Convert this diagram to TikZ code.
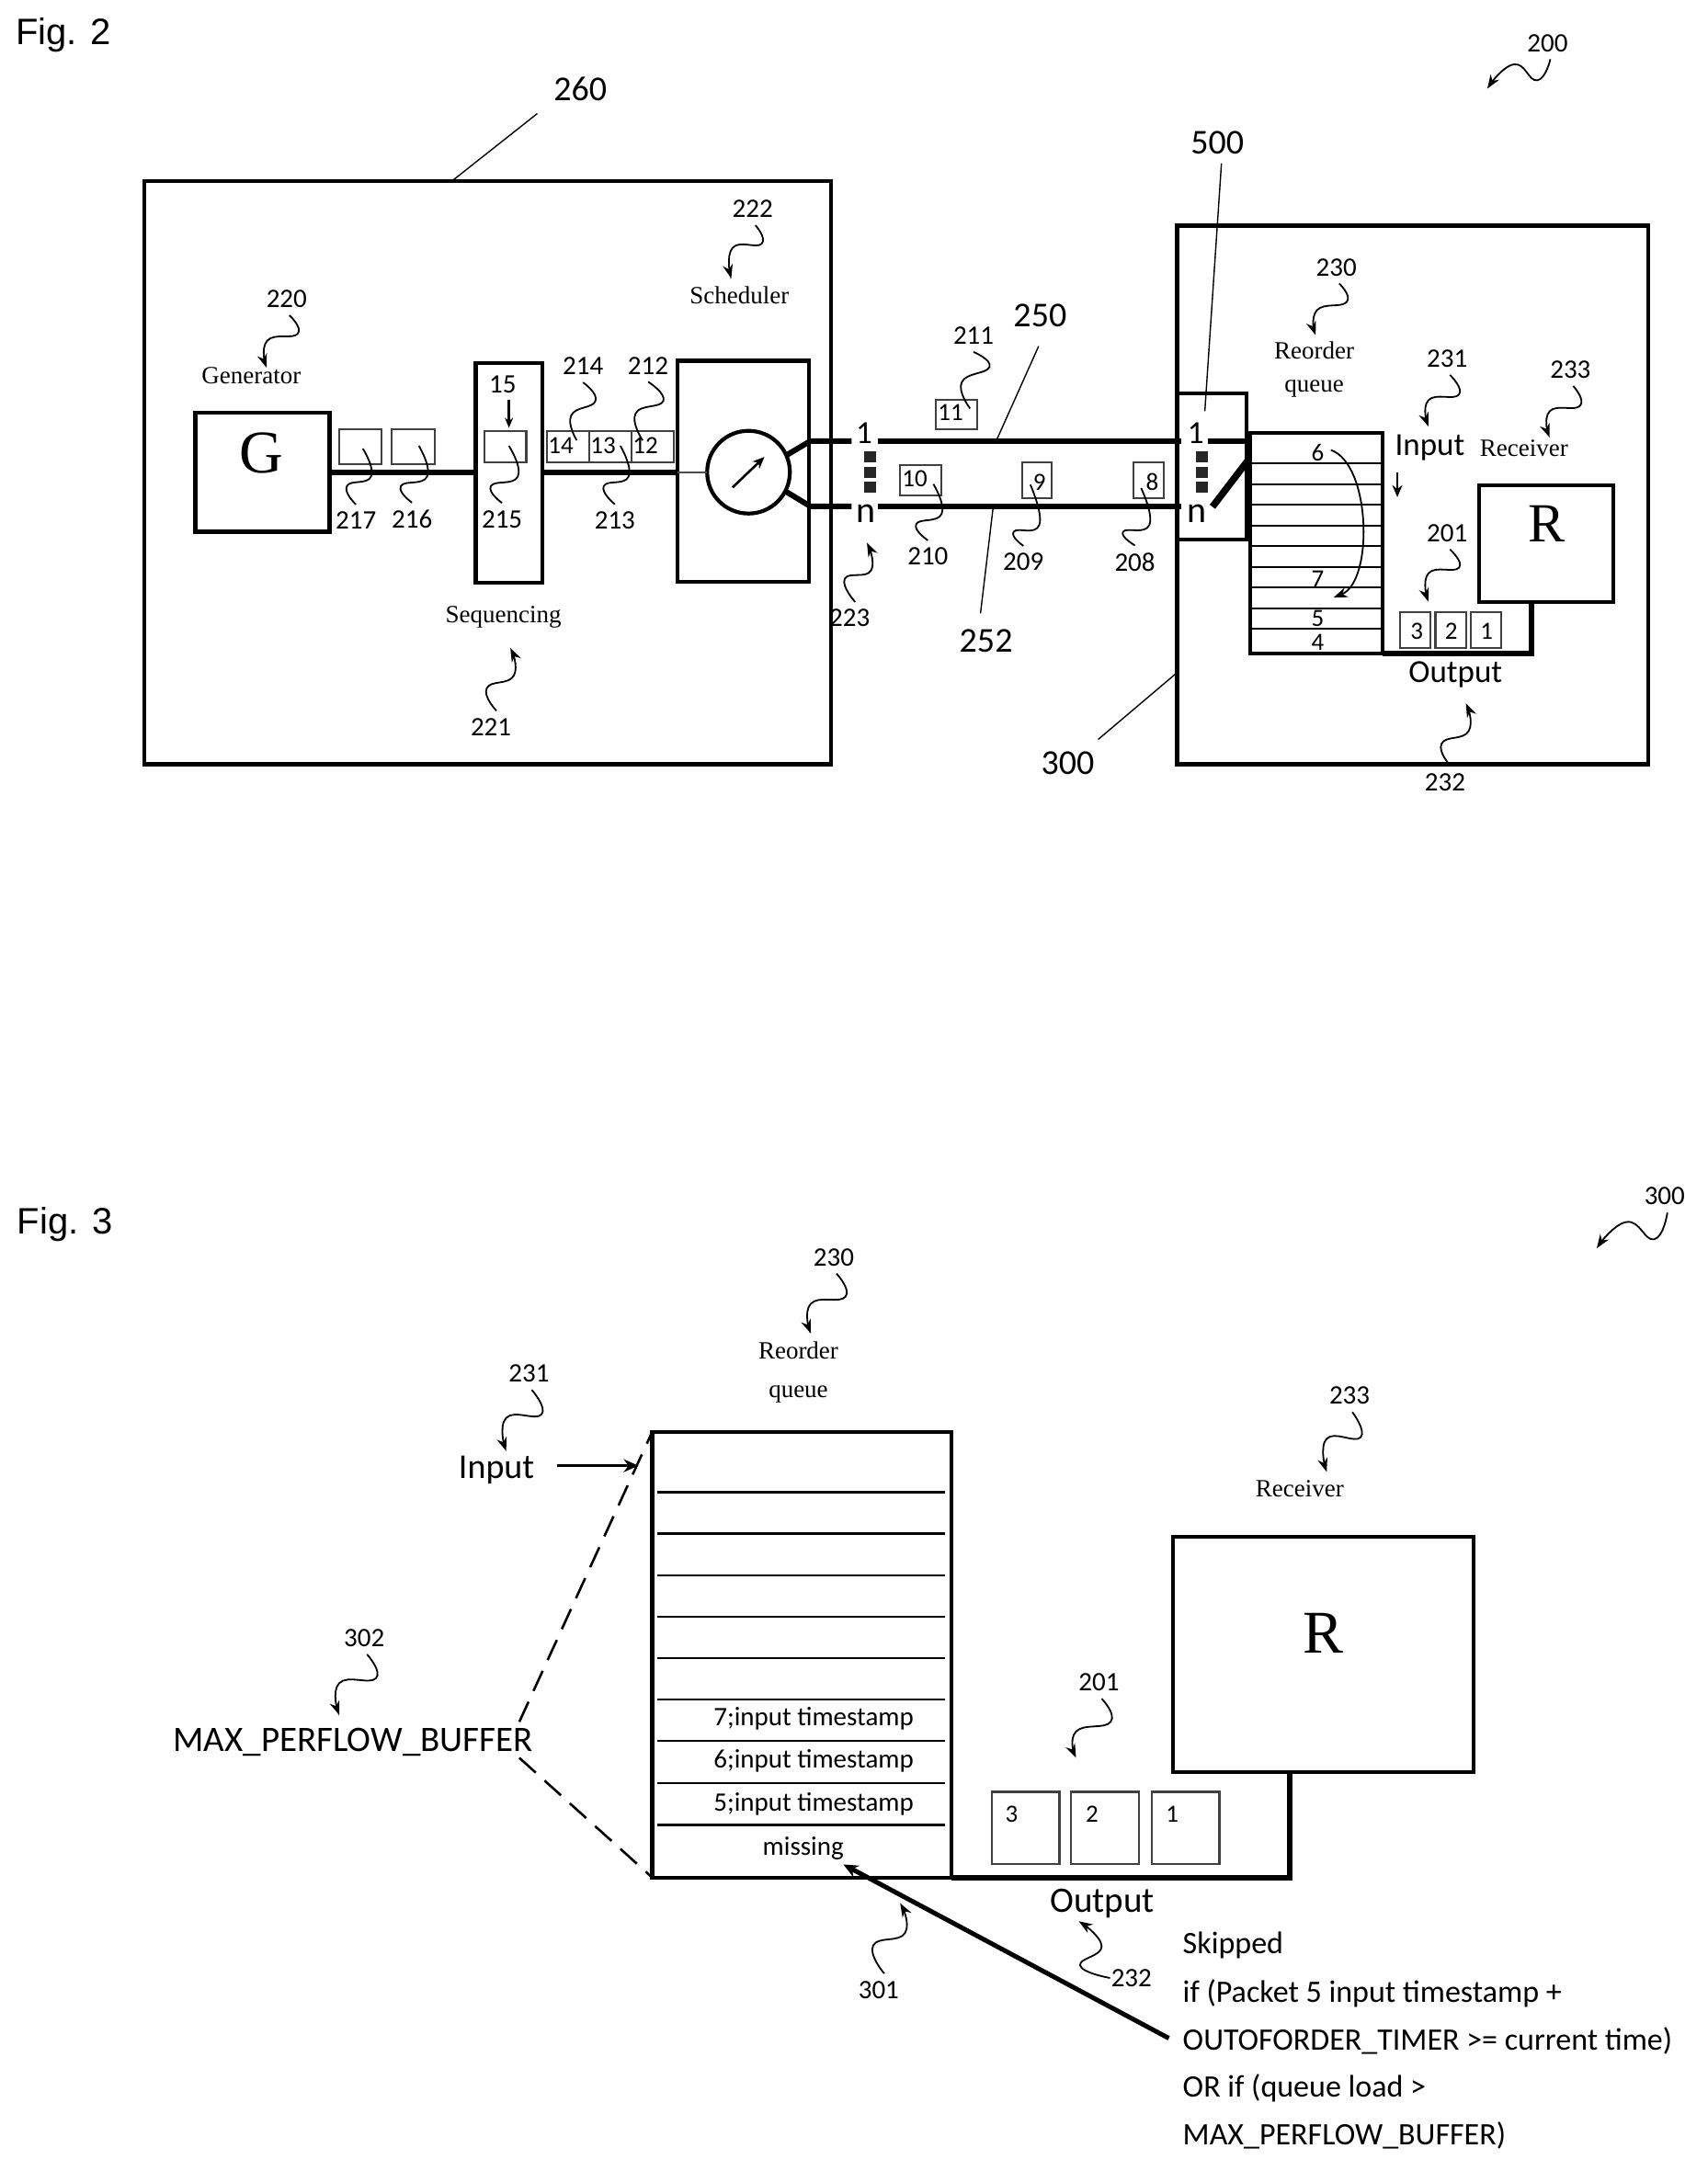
\documentclass[tikz,border=0pt]{standalone}
\usepackage{fontspec}
\usetikzlibrary{arrows.meta,fit,positioning}
\setmainfont{Liberation Sans}
\newfontfamily\carl{Carlito}
\newfontfamily\serf{Liberation Serif}
\tikzset{
  box/.style={draw,line width=4.2pt,inner sep=0pt,outer sep=0pt},
  pkt/.style={draw,line width=2.2pt,draw=black!75,inner sep=0pt,outer sep=0pt},
  wire/.style={line width=6pt},
  thinline/.style={line width=2.2pt},
  lead/.style={line width=1.4pt},
  num/.style={font=\carl\fontsize{29}{30}\selectfont,inner sep=1pt},
  big/.style={font=\carl\fontsize{38}{40}\selectfont,inner sep=1pt},
  lab/.style={font=\carl\fontsize{35}{40}\selectfont,inner sep=1pt},
  chn/.style={font=\carl\fontsize{40}{40}\selectfont,inner sep=1pt},
  pnum/.style={font=\carl\fontsize{27}{28}\selectfont,inner sep=0pt},
  ser/.style={font=\serf\fontsize{27}{30}\selectfont,inner sep=1pt},
  entry/.style={font=\carl\fontsize{29}{30}\selectfont,inner sep=1pt},
  letter/.style={font=\serf\fontsize{66}{70}\selectfont,inner sep=0pt},
  fig/.style={font=\fontsize{40}{42}\selectfont,inner sep=0pt},
  txt/.style={font=\carl\fontsize{34}{36}\selectfont,anchor=west,inner sep=0pt},
  squig/.style={line width=1.8pt,-{Stealth[length=15pt,width=11pt]}},
  squign/.style={line width=1.8pt},
  dotsq/.style={fill=black!85,minimum width=13pt,minimum height=12pt,inner sep=0pt,outer sep=0pt},
  arr/.style={line width=3.6pt,-{Stealth[length=16pt,width=14pt]}},
}
\newcommand{\bx}[6][box]{%
  \coordinate (#2-a) at (#3,#4);\coordinate (#2-b) at (#5,#6);
  \node[#1,fit=(#2-a)(#2-b)] (#2) {};}
% arrowed squiggles that leave a label downwards (\sqa) or upwards (\sqb)
\newcommand{\sqa}[4]{\draw[squig] plot[smooth,tension=.85] coordinates {([shift={(2,0)},yshift=-7pt]#1)(#2)(#3)(#4)};}
\newcommand{\sqb}[4]{\draw[squig] plot[smooth,tension=.85] coordinates {([shift={(4,0)},yshift=7pt]#1)(#2)(#3)(#4)};}
% plain squiggles: from a point to the top of a label (\sqn), from the foot of a label to a point (\sqm)
\newcommand{\sqn}[4]{\draw[squign] plot[smooth,tension=.85] coordinates {(#1)(#2)(#3)([yshift=7pt]#4)};}
\newcommand{\sqm}[4]{\draw[squign] plot[smooth,tension=.85] coordinates {([yshift=-7pt]#1)(#2)(#3)(#4)};}
\begin{document}
\begin{tikzpicture}[x=1.5065pt,y=-1.5065pt]
\path[use as bounding box,fill=white] (0,0) rectangle (1233.3,1567.9);
% ---------- Fig. 2 ----------
\node[fig] (fig2) at (46,25.5) {Fig. 2};
\bx{b260}{104}{131}{600}{552}
\bx{b300}{850}{163}{1190}{552}
\node[big] (l260) at (419,64) {260};
\coordinate (s260) at (388,82);\coordinate (t260) at (326,131);
\draw[lead] (s260) -- (t260);
\bx{gen}{141}{298}{238}{384}
\node[letter] (tG) at (189,327) {G};
\bx{seq}{343.5}{262}{391.5}{421}
\bx{sched}{489}{260.5}{584}{420}
\node[draw,circle,line width=4.2pt,minimum size=90pt,inner sep=0pt,outer sep=0pt] (circ) at (540.5,341) {};
\coordinate (ca) at (529,352);\coordinate (cb) at (552,330);
\draw[line width=2.6pt,-{Stealth[length=13pt,width=11pt]}] (ca) -- (cb);
\draw[wire] (gen.east) -- (gen.east -| seq.west);
\draw[wire] (seq.east |- gen.east) -- (sched.west |- gen.east);
\draw[line width=2.4pt,black!70] (sched.west |- gen.east) -- (circ.west);
% packets
\bx[pkt]{p217}{245}{310}{275.5}{335}
\bx[pkt]{p216}{283}{310}{314}{335}
\bx[pkt]{p215}{350}{311.5}{380}{334}
\bx[pkt]{p14}{395}{311.5}{425.5}{334}
\bx[pkt]{p13}{425.5}{311.5}{456}{334}
\bx[pkt]{p12}{456}{311.5}{486.5}{334}
\node[pnum] (t14) at (405,322) {14};
\node[pnum] (t13) at (435.5,322) {13};
\node[pnum] (t12) at (466,322) {12};
\node[num] (l15) at (363,277.5) {15};
\coordinate (a15) at (367.5,309);\coordinate (a15s) at (367.5,288.5);
\draw[line width=2.4pt,-{Stealth[length=11pt,width=9pt]}] (a15s) -- (a15);
% channels
\node[lab] (c1) at (624,312.5) {1};
\node[chn] (cn) at (625,371) {n};
\node[lab] (d1) at (863.5,312.5) {1};
\node[chn] (dn) at (864,371) {n};
\node[dotsq] (s1) at (628.4,329.7) {};
\node[dotsq] (s2) at (628.4,341) {};
\node[dotsq] (s3) at (628.4,352) {};
\node[dotsq] (s4) at (867.8,329.7) {};
\node[dotsq] (s5) at (867.8,341) {};
\node[dotsq] (s6) at (867.8,352) {};
\coordinate (u0) at (567.5,329);\coordinate (u1) at (585,318.6);\coordinate (u2) at (615,318.6);
\coordinate (v0) at (567.5,355);\coordinate (v1) at (585,365.6);\coordinate (v2) at (615,365.6);
\coordinate (u3) at (633.6,318.6);\coordinate (u4) at (853,318.6);\coordinate (u5) at (872.4,318.6);\coordinate (u6) at (901.5,318.6);
\coordinate (v3) at (633.6,365.6);\coordinate (v4) at (853,365.6);
\coordinate (w1) at (901.5,332);\coordinate (w2) at (875.5,366);
\draw[wire] (u0) -- (u1) -- (u2);
\draw[wire] (v0) -- (v1) -- (v2);
\draw[wire] (u3) -- (u4);
\draw[wire] (v3) -- (v4);
\draw[wire] (u5) -- (u6) -- (w1);
\draw[line width=7.5pt] (w1) -- (w2);
\bx{b500}{850}{284}{900}{389.5}
\bx[pkt]{p11}{676}{288.8}{705.7}{309.8}
\bx[pkt]{p10}{650}{336}{679.7}{357.6}
\bx[pkt]{p9}{738}{334}{759.4}{359.8}
\bx[pkt]{p8}{818.6}{334}{840.4}{359.8}
\node[pnum] (t11) at (686.4,298) {11};
\node[pnum] (t10) at (660.5,346) {10};
\node[pnum] (t9) at (750.5,348) {9};
\node[pnum] (t8) at (832,348) {8};
% queue
\bx{queue}{903}{312.5}{998.5}{472}
\foreach \yy in {334.7,349.6,364.6,379.5,394.4,409.3,424.2,439.2,454.1}
  \draw[thinline] (queue.west |- 0,\yy) -- (queue.east |- 0,\yy);
\node[pnum] (q6) at (951.5,327) {6};
\node[pnum] (q7) at (951.5,418) {7};
\node[pnum] (q5) at (951.5,446.5) {5};
\node[pnum] (q4) at (951.5,464) {4};
\coordinate (cv1) at (961,325);\coordinate (cv3) at (963,431.5);
\draw[line width=1.8pt,-{Stealth[length=15pt,width=11pt]}] (cv1) .. controls (990,335) and (992,420) .. (cv3);
\node[font=\serf\fontsize{60}{64}\selectfont,inner sep=0pt] (tR) at (1117,378) {R};
\bx{recv}{1068}{350.5}{1165}{435}
\coordinate (rj) at (1106,435);
\draw[wire] (queue.south east) -| (rj);
\bx[pkt]{o3}{1011}{442}{1033}{468}
\bx[pkt]{o2}{1036.5}{442}{1058.5}{468}
\bx[pkt]{o1}{1062}{442}{1084}{468}
\node[pnum] (to3) at (1023,456) {3};
\node[pnum] (to2) at (1048,456) {2};
\node[pnum] (to1) at (1073.5,456) {1};
\node[lab] (tinput) at (1032.5,323.5) {Input};
\node[lab] (toutput) at (1051,487) {Output};
\coordinate (ia) at (1009,341);\coordinate (ib) at (1009,359);
\draw[line width=2.6pt,-{Stealth[length=13pt,width=11pt]}] (ia) -- (ib);
\node[ser] (tgen) at (181.5,271.5) {Generator};
\node[ser] (tsched) at (534,213) {Scheduler};
\node[ser] (tseq) at (363.5,445.5) {Sequencing};
\node[ser] (treo) at (949,253) {Reorder};
\node[ser] (tq) at (949,281) {queue};
\node[ser] (trcv) at (1100.5,324) {Receiver};
% reference numerals
\node[num] (l200) at (1117.5,31) {200};
\sqa{l200.south}{1110,58}{1093,46.5}{1074,64}
\node[big] (l500) at (879,103) {500};
\coordinate (s500) at (882,118);\coordinate (e500) at (870,297);
\draw[lead] (s500) -- (e500);
\node[big] (l250) at (751,228) {250};
\coordinate (s250) at (750,250);\coordinate (e250) at (720,317);
\draw[lead] (s250) -- (e250);
\node[big] (l252) at (712,463) {252};
\coordinate (s252) at (708,443);\coordinate (e252) at (717,367.5);
\draw[lead] (s252) -- (e252);
\node[big] (l300) at (771,551) {300};
\coordinate (s300) at (793,534);\coordinate (e300) at (848.5,487);
\draw[lead] (s300) -- (e300);
\node[num] (l220) at (207,216) {220};
\sqa{l220.south}{215,241}{193,246}{192.5,265.5}
\node[num] (l222) at (543.5,151) {222};
\sqa{l222.south}{550,176}{529,179}{528,201}
\node[num] (l221) at (354.5,525) {221};
\sqb{l221.north}{351.5,497}{371,488}{368.5,468}
\node[num] (l217) at (257,376) {217};
\coordinate (x217) at (262,324);
\sqn{x217}{268,344}{250.5,351}{l217.north}
\node[num] (l216) at (297.5,375) {216};
\coordinate (x216) at (302.5,322);
\sqn{x216}{308.5,344}{289.5,351}{l216.north}
\node[num] (l215) at (362.5,375) {215};
\coordinate (x215) at (367.5,322);
\sqn{x215}{374,344}{354.5,351}{l215.north}
\node[num] (l214) at (421,264.5) {214};
\coordinate (x214) at (416.5,318);
\sqm{l214.south}{430,289.5}{412.5,300}{x214}
\node[num] (l212) at (468,264) {212};
\coordinate (x212) at (464,318);
\sqm{l212.south}{479,289.5}{459,298.5}{x212}
\node[num] (l213) at (444,376) {213};
\coordinate (x213) at (448,322);
\sqn{x213}{454,344}{436,351}{l213.north}
\node[num] (l211) at (703,242.5) {211};
\coordinate (x211) at (700.5,295);
\sqm{l211.south}{714.5,265}{694.5,276}{x211}
\node[num] (l210) at (670,402) {210};
\coordinate (x210) at (674,349.6);
\sqn{x210}{680,371}{661.6,378.5}{l210.north}
\node[num] (l209) at (739,406) {209};
\coordinate (x209) at (744,350);
\sqn{x209}{750.5,379}{732,384}{l209.north}
\node[num] (l208) at (819.5,406) {208};
\coordinate (x208) at (824,352.5);
\sqn{x208}{830,379}{811,384}{l208.north}
\node[num] (l223) at (613.5,446.5) {223};
\sqb{l223.north}{610,418}{629,412}{626,392}
\node[num] (l230a) at (965,193) {230};
\sqa{l230a.south}{972.5,218}{951,224}{950,242}
\node[num] (l231a) at (1045,259) {231};
\sqa{l231a.south}{1053.5,285}{1031.5,289}{1031.5,308}
\node[num] (l233a) at (1134,267) {233};
\sqa{l233a.south}{1141,293}{1119,297}{1119,316}
\node[num] (l201a) at (1045,385) {201};
\sqa{l201a.south}{1053.5,410}{1031.5,414}{1031.5,434.5}
\node[num] (l232a) at (1043.5,565) {232};
\sqb{l232a.north}{1041,537}{1060.5,528}{1058.5,508}
% ---------- Fig. 3 ----------
\node[fig] (fig3) at (47,884.5) {Fig. 3};
\node[num] (l300b) at (1202,864) {300};
\sqa{l300b.south}{1194.5,895}{1174.5,882.5}{1153,901.5}
\bx{q3}{471}{1034}{687}{1356}
\foreach \yy in {1077.7,1107.5,1137.8,1167.7,1197.6,1227.4,1257.3,1287.6,1317.9}
  \draw[thinline] (474.5,\yy) -- (682.5,\yy);
\node[entry] (e7) at (587.5,1241) {7;input timestamp};
\node[entry] (e6) at (587.5,1272) {6;input timestamp};
\node[entry] (e5) at (587.5,1303) {5;input timestamp};
\node[entry] (emiss) at (580,1335) {missing};
\node[ser] (treo2) at (576.5,975) {Reorder};
\node[ser] (tq2) at (576.5,1007) {queue};
\node[num] (l230b) at (602,908) {230};
\sqa{l230b.south}{610.5,936.5}{585.5,941.5}{585.5,963}
\node[num] (l231b) at (382,992) {231};
\sqa{l231b.south}{391,1021.5}{365.5,1024}{365.5,1048}
\node[font=\carl\fontsize{38}{40}\selectfont,inner sep=1pt] (tinput3) at (358.5,1061.5) {Input};
\coordinate (ea3) at (402,1058.5);\coordinate (eb3) at (461,1058.5);
\draw[arr] (ea3) -- (eb3);
\node[font=\carl\fontsize{39}{40}\selectfont,inner sep=0pt] (maxb) at (255,1258.5) {MAX\_PERFLOW\_BUFFER};
\node[num] (l302) at (263,1183) {302};
\sqa{l302.south}{271.5,1212}{245,1215.5}{245,1238.5}
\coordinate (dd1) at (375,1243.5);\coordinate (dd2) at (375,1269.5);
\draw[line width=2.6pt,dash pattern=on 24pt off 13pt] (dd1) -- (q3.north west);
\draw[line width=2.6pt,dash pattern=on 24pt off 13pt] (dd2) -- (q3.south west);
\node[num] (l301) at (634.5,1437) {301};
\sqb{l301.north}{630.5,1405}{653.5,1396}{650,1374.5}
\bx{rb3}{847}{1110}{1064}{1280}
\node[font=\serf\fontsize{66}{70}\selectfont,inner sep=0pt] (tR3) at (955.5,1179.5) {R};
\node[ser] (trcv3) at (938.5,1075) {Receiver};
\node[num] (l233b) at (974.5,1008) {233};
\sqa{l233b.south}{982.5,1038}{958,1039}{958,1063}
\node[num] (l201b) at (793.5,1215) {201};
\sqa{l201b.south}{802,1243.5}{777,1250.5}{777,1269.5}
\bx[pkt]{r3}{716}{1294}{765}{1346}
\bx[pkt]{r2}{773.5}{1294}{822.5}{1346}
\bx[pkt]{r1}{831.5}{1294}{880.5}{1346}
\node[pnum] (tr3) at (730.5,1310) {3};
\node[pnum] (tr2) at (788.5,1310) {2};
\node[pnum] (tr1) at (846.5,1310) {1};
\coordinate (rj3) at (931,1280);
\draw[wire] (q3.south east) -| (rj3);
\node[font=\carl\fontsize{39}{40}\selectfont,inner sep=1pt] (toutput3) at (796,1375) {Output};
\node[num] (l232b) at (817,1428.5) {232};
\draw[squig] plot[smooth,tension=.85] coordinates {(l232b.west)(780,1419.5)(795.5,1405.5)(779,1387.5)};
\coordinate (sk1) at (844,1472);\coordinate (sk2) at (609,1346.5);
\draw[line width=5pt,-{Stealth[length=16pt,width=14pt]}] (sk1) -- (sk2);
\node[txt] (s1t) at (854,1405) {Skipped};
\node[txt] (s2t) at (854,1439.5) {if (Packet 5 input timestamp +};
\node[txt] (s3t) at (854,1474) {OUTOFORDER\_TIMER >= current time)};
\node[txt] (s4t) at (854,1508) {OR if (queue load >};
\node[txt] (s5t) at (854,1542.5) {MAX\_PERFLOW\_BUFFER)};
\end{tikzpicture}
\end{document}
